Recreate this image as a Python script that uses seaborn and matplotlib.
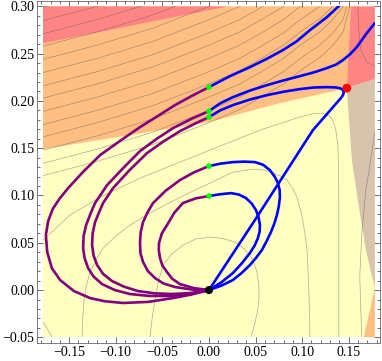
import matplotlib
matplotlib.use("Agg")
import matplotlib.pyplot as plt
from matplotlib.patches import Rectangle
from matplotlib.ticker import MultipleLocator, FuncFormatter
import seaborn as sns

# --- extent of the shaded map ---
x_lo, x_hi = -0.178, 0.178
y_lo, y_hi = -0.05, 0.30

# --- shaded regions (polygon corners) ---
orange_x = [x_lo, 0.0, 0.0761, 0.1479, 0.1522, x_lo]
orange_y = [0.149, 0.1776, 0.1977, 0.2135, y_hi, y_hi]
red_left_x = [x_lo, 0.0204, x_lo]
red_left_y = [0.261, y_hi, y_hi]
red_right_x = [0.1522, x_hi, x_hi, 0.1479]
red_right_y = [y_hi, y_hi, 0.223, 0.2135]
tan_x = [0.1479, x_hi, x_hi, 0.1683, 0.1597, 0.1533]
tan_y = [0.2135, 0.223, 0.002, 0.0423, 0.0951, 0.1374]
corner_x = [x_hi, 0.1661, x_hi]
corner_y = [0.002, y_lo, y_lo]

# --- gray level lines ---
ridge_x = [-0.178, -0.12, -0.06, 0.0, 0.033, 0.058, 0.080, 0.098, 0.119, 0.133, 0.144, 0.151]
ridge_lines = [
    [0.121, 0.136, 0.154, 0.177, 0.191, 0.205, 0.218, 0.232, 0.246, 0.259, 0.273, 0.300],
    [0.134, 0.149, 0.167, 0.190, 0.204, 0.218, 0.231, 0.245, 0.259, 0.272, 0.286, 0.313],
    [0.148, 0.163, 0.181, 0.204, 0.218, 0.232, 0.245, 0.259, 0.273, 0.286, 0.300, 0.327],
    [0.162, 0.177, 0.195, 0.218, 0.232, 0.246, 0.259, 0.273, 0.287, 0.300, 0.314, 0.341],
    [0.175, 0.190, 0.208, 0.231, 0.245, 0.259, 0.272, 0.286, 0.300, 0.313, 0.327, 0.354],
    [0.189, 0.204, 0.222, 0.245, 0.259, 0.273, 0.286, 0.300, 0.314, 0.327, 0.341, 0.368],
    [0.203, 0.218, 0.236, 0.259, 0.273, 0.287, 0.300, 0.314, 0.328, 0.341, 0.355, 0.382],
    [0.216, 0.231, 0.249, 0.272, 0.286, 0.300, 0.313, 0.327, 0.341, 0.354, 0.368, 0.395],
    [0.230, 0.245, 0.263, 0.286, 0.300, 0.314, 0.327, 0.341, 0.355, 0.368, 0.382, 0.409],
    [0.244, 0.259, 0.277, 0.300, 0.314, 0.328, 0.341, 0.355, 0.369, 0.382, 0.396, 0.423],
    [0.258, 0.273, 0.291, 0.314, 0.328, 0.342, 0.355, 0.369, 0.383, 0.396, 0.410, 0.437],
    [0.271, 0.286, 0.304, 0.327, 0.341, 0.355, 0.368, 0.382, 0.396, 0.409, 0.423, 0.450],
    [0.285, 0.300, 0.318, 0.341, 0.355, 0.369, 0.382, 0.396, 0.410, 0.423, 0.437, 0.464],
    [0.299, 0.314, 0.332, 0.355, 0.369, 0.383, 0.396, 0.410, 0.424, 0.437, 0.451, 0.478],
]
oval0_x = [-0.0632, -0.061, -0.0579, -0.0545, -0.0493, -0.040, -0.0279, -0.014, 0.0011, 0.015,
           0.0279, 0.038, 0.0461, 0.051, 0.0536, 0.0537, 0.0525, 0.049, 0.045]
oval0_y = [-0.05, -0.03, -0.0106, 0.008, 0.0264, 0.038, 0.0476, 0.054, 0.056, 0.0545,
           0.0507, 0.0435, 0.0338, 0.021, 0.0053, -0.008, -0.0211, -0.036, -0.05]
oval1_x = [-0.1361, -0.1355, -0.134, -0.1315, -0.1275, -0.121, -0.1136, -0.100, -0.0847, -0.066,
           -0.0472, -0.023, 0.0011, 0.0257, 0.0472, 0.059, 0.0686, 0.077, 0.0836, 0.0895,
           0.0943, 0.0995, 0.1029, 0.1052, 0.1061, 0.1075, 0.1083]
oval1_y = [-0.05, -0.03, -0.0106, 0.005, 0.019, 0.032, 0.0444, 0.057, 0.0687, 0.080,
           0.0899, 0.102, 0.1131, 0.1247, 0.1279, 0.127, 0.1237, 0.1205, 0.1163, 0.108,
           0.0983, 0.080, 0.0603, 0.042, 0.0243, -0.01, -0.05]
oval2_x = [-0.178, -0.149, -0.1168, -0.074, -0.0311, 0.0011, 0.0547, 0.0975, 0.112, 0.1222,
           0.1285, 0.1329, 0.136, 0.1383, 0.139, 0.1393, 0.1393]
oval2_y = [0.0529, 0.0793, 0.0983, 0.1184, 0.1353, 0.148, 0.1691, 0.1829, 0.1865, 0.1871,
           0.1845, 0.1797, 0.170, 0.1533, 0.13, 0.0951, -0.05]
tail_x = [-0.178, -0.168]
tail_y = [-0.0338, -0.05]
right1_x = [0.1597, 0.1608, 0.1629, 0.1693, 0.1779]
right1_y = [0.30, 0.2748, 0.2537, 0.241, 0.2368]
right2_x = [0.1779, 0.1726, 0.1683, 0.164, 0.1618, 0.1629, 0.164]
right2_y = [0.166, 0.1321, 0.1057, 0.0603, 0.0137, -0.0211, -0.05]

# --- purple branches (origin -> axis crossing) ---
purple = [
    ([0, -0.02, -0.0386, -0.065, -0.0922, -0.112, -0.1275, -0.145, -0.1597, -0.1685, -0.1735,
      -0.175, -0.1725, -0.1675, -0.160, -0.1511, -0.135, -0.1168, -0.095, -0.074, -0.055,
      -0.0364, -0.018, 0],
     [0, -0.005, -0.0085, -0.0125, -0.0137, -0.0118, -0.0085, -0.001, 0.0106, 0.023, 0.040,
      0.058, 0.073, 0.086, 0.097, 0.1078, 0.125, 0.1427, 0.158, 0.1723, 0.184,
      0.1956, 0.2055, 0.2146]),
    ([0, -0.02, -0.0418, -0.064, -0.0847, -0.101, -0.1147, -0.124, -0.1297, -0.1335, -0.135,
      -0.1345, -0.1318, -0.127, -0.1222, -0.1093, -0.092, -0.074, -0.056, -0.0386, -0.019, 0],
     [0, -0.0045, -0.0063, -0.0062, -0.0042, 0.0, 0.0063, 0.0145, 0.0233, 0.034, 0.0444,
      0.057, 0.0687, 0.081, 0.092, 0.111, 0.129, 0.1469, 0.160, 0.1712, 0.181, 0.1892]),
    ([0, -0.02, -0.0397, -0.058, -0.0761, -0.091, -0.104, -0.1135, -0.12, -0.1238, -0.1254,
      -0.1248, -0.1222, -0.118, -0.1136, -0.1029, -0.085, -0.0665, -0.049, -0.0311, -0.015, 0],
     [0, -0.0032, -0.0042, -0.0035, -0.0011, 0.0035, 0.0095, 0.017, 0.0264, 0.0365, 0.0476,
      0.06, 0.0719, 0.082, 0.092, 0.1078, 0.127, 0.1448, 0.157, 0.1681, 0.176, 0.1829]),
    ([0, -0.018, -0.0364, -0.049, -0.0579, -0.0655, -0.0707, -0.0735, -0.074, -0.0733,
      -0.0707, -0.066, -0.06, -0.0465, -0.0311, -0.016, 0],
     [0, 0.0005, 0.0032, 0.007, 0.0127, 0.020, 0.0296, 0.039, 0.0497, 0.061,
      0.0719, 0.082, 0.092, 0.105, 0.1163, 0.1245, 0.1311]),
    ([0, -0.016, -0.0311, -0.0395, -0.045, -0.050, -0.0525, -0.0538, -0.0536, -0.0505,
      -0.045, -0.037, -0.0279, -0.014, 0],
     [0, 0.002, 0.0063, 0.012, 0.019, 0.026, 0.0338, 0.042, 0.0497, 0.060,
      0.0687, 0.082, 0.092, 0.097, 0.0994]),
]

# --- blue branches (axis crossing -> onwards) ---
blue = [
    ([0, 0.0225, 0.0439, 0.062, 0.0793, 0.094, 0.1083, 0.1265, 0.1404],
     [0.2146, 0.2262, 0.2357, 0.2445, 0.2537, 0.263, 0.2748, 0.2886, 0.3013]),
    ([0, 0.012, 0.0257, 0.044, 0.0622, 0.08, 0.0975, 0.1125, 0.1265, 0.1365, 0.1436,
      0.1515, 0.1586, 0.1693, 0.1779],
     [0.1892, 0.1975, 0.204, 0.211, 0.2167, 0.2217, 0.2262, 0.2302, 0.2347, 0.2385, 0.2431,
      0.2495, 0.2569, 0.2717, 0.2822]),
    ([0, 0.012, 0.0257, 0.044, 0.0622, 0.08, 0.0975, 0.1125, 0.1265, 0.1355, 0.1404,
      0.1435, 0.1447, 0.1438, 0.1415, 0.1115, 0.0493, 0],
     [0.1829, 0.190, 0.1956, 0.2015, 0.2061, 0.2097, 0.2125, 0.2142, 0.2146, 0.2143, 0.2135,
      0.2118, 0.2093, 0.2062, 0.203, 0.1691, 0.074, 0]),
    ([0, 0.0125, 0.0257, 0.038, 0.0493, 0.058, 0.0654, 0.0705, 0.074, 0.0758, 0.0761, 0.075,
      0.0729, 0.070, 0.0665, 0.062, 0.0568, 0.0505, 0.0439, 0.035, 0.0257, 0.013, 0],
     [0.1311, 0.1337, 0.1353, 0.1358, 0.1353, 0.1325, 0.1268, 0.120, 0.1131, 0.106, 0.0983, 0.089,
      0.0793, 0.070, 0.0613, 0.052, 0.0423, 0.034, 0.0264, 0.018, 0.0106, 0.0045, 0]),
    ([0, 0.012, 0.0236, 0.032, 0.0397, 0.0458, 0.0504, 0.0532, 0.0547, 0.0543, 0.0525,
      0.049, 0.0439, 0.035, 0.0257, 0.013, 0],
     [0.0994, 0.1013, 0.1025, 0.101, 0.0973, 0.0915, 0.0846, 0.077, 0.0687, 0.0615, 0.055,
      0.047, 0.0391, 0.028, 0.018, 0.008, 0]),
]

# --- special points ---
green_y = [0.2146, 0.1892, 0.1829, 0.1311, 0.0994]
saddle = (0.1479, 0.2135)
origin = (0.0, 0.0)

sns.set_theme(style="ticks")
plt.rcParams["font.family"] = ["Liberation Serif", "DejaVu Serif"]

fig = plt.figure(figsize=(3.82, 3.61), dpi=100)
ax = fig.add_axes([37 / 382, 18 / 361, 343 / 382, 342.5 / 361])

clip = Rectangle((x_lo, y_lo), x_hi - x_lo, y_hi - y_lo, transform=ax.transData)

# background regions
ax.fill([x_lo, x_hi, x_hi, x_lo], [y_lo, y_lo, y_hi, y_hi], color="#ffffc2", lw=0, zorder=0)
ax.fill(orange_x, orange_y, color="#ffbe82", lw=0, zorder=0.5)
ax.fill(red_left_x, red_left_y, color="#ff8484", lw=0, zorder=0.6)
ax.fill(red_right_x, red_right_y, color="#ff8484", lw=0, zorder=0.6)
ax.fill(tan_x, tan_y, color="#d8c3ad", lw=0, zorder=0.6)
ax.fill(corner_x, corner_y, color="#ffbe82", lw=0, zorder=0.6)

# gray level lines
gray_sets = [(ridge_x[:len(r)], r) for r in ridge_lines]
gray_sets += [(oval0_x, oval0_y), (oval1_x, oval1_y), (oval2_x, oval2_y),
              (tail_x, tail_y), (right1_x, right1_y), (right2_x, right2_y)]
for gx, gy in gray_sets:
    sns.lineplot(x=gx, y=gy, sort=False, estimator=None, color="#5a5a50",
                 lw=0.5, alpha=0.5, ax=ax, legend=False)
    ax.lines[-1].set_clip_path(clip)
    ax.lines[-1].set_zorder(1)

for px, py in purple:
    sns.lineplot(x=px, y=py, sort=False, estimator=None, color="#800080",
                 lw=1.9, ax=ax, legend=False)
    ax.lines[-1].set_solid_joinstyle("round")
    ax.lines[-1].set_zorder(3)

for bx, by in blue:
    sns.lineplot(x=bx, y=by, sort=False, estimator=None, color="#0000ff",
                 lw=1.9, ax=ax, legend=False)
    ax.lines[-1].set_solid_joinstyle("round")
    ax.lines[-1].set_clip_path(clip)
    ax.lines[-1].set_zorder(3.5)

sns.scatterplot(x=[0.0] * len(green_y), y=green_y, color="#00ff00", s=16,
                edgecolor="none", ax=ax, zorder=5)
sns.scatterplot(x=[saddle[0]], y=[saddle[1]], color="#ff0000", s=40,
                edgecolor="none", ax=ax, zorder=5)
sns.scatterplot(x=[origin[0]], y=[origin[1]], color="#000000", s=34,
                edgecolor="none", ax=ax, zorder=5)

ax.set_xlim(-0.1845, 0.1835)
ax.set_ylim(-0.056, 0.3062)
ax.xaxis.set_major_locator(MultipleLocator(0.05))
ax.yaxis.set_major_locator(MultipleLocator(0.05))
ax.xaxis.set_minor_locator(MultipleLocator(0.01))
ax.yaxis.set_minor_locator(MultipleLocator(0.01))
fmt = FuncFormatter(lambda v, p: f"{v:.2f}".replace("-", "\u2212") if abs(v) > 1e-9 else "0.00")
ax.xaxis.set_major_formatter(fmt)
ax.yaxis.set_major_formatter(fmt)
ax.tick_params(which="both", direction="in", top=True, right=True,
               color="#555555", width=0.6, labelsize=10, pad=2, labelcolor="black")
ax.tick_params(which="major", length=4)
ax.tick_params(which="minor", length=2)
for s in ax.spines.values():
    s.set_color("#666666")
    s.set_linewidth(0.6)
ax.set_xlabel("")
ax.set_ylabel("")

fig.savefig("out.png", dpi=100)
